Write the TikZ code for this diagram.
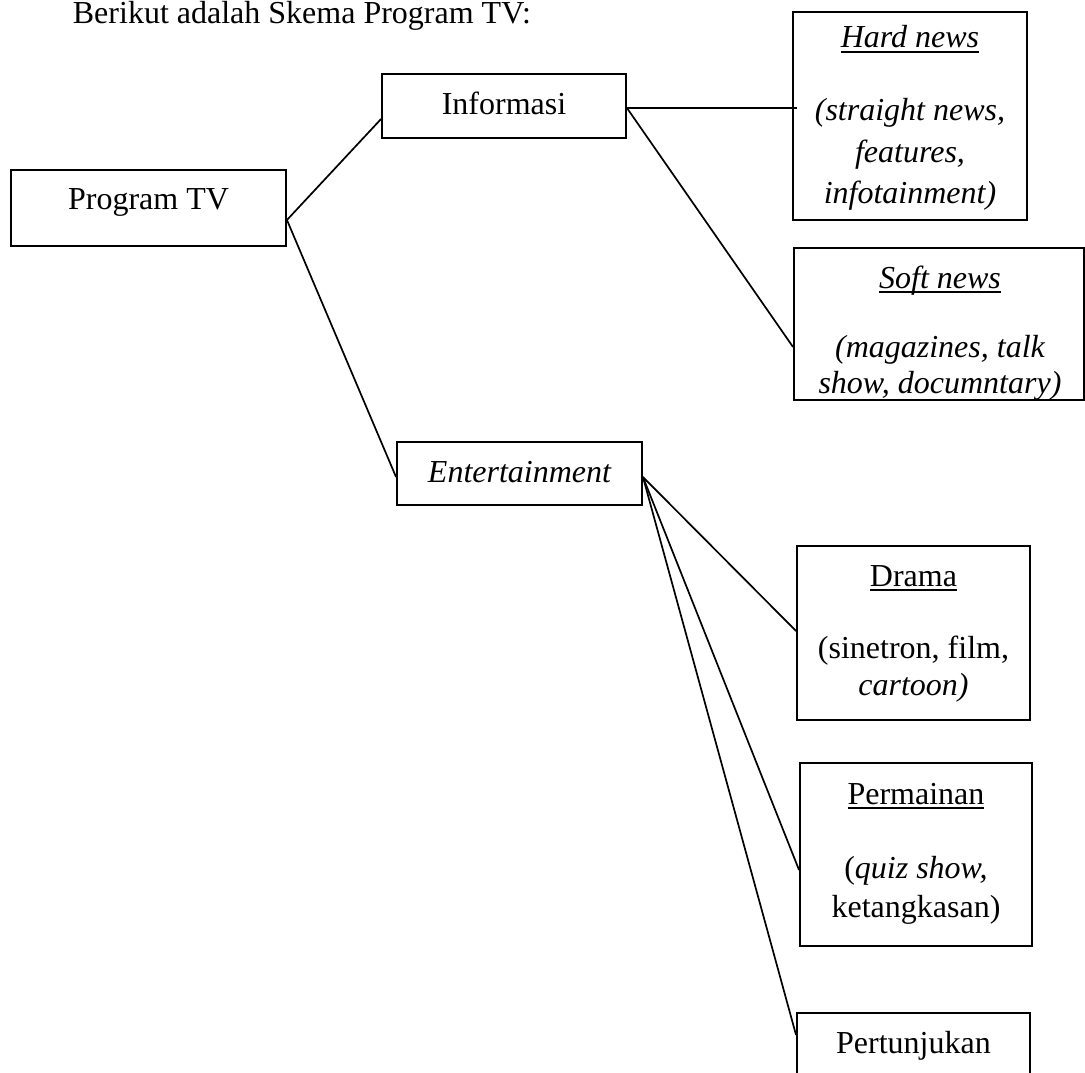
\documentclass[tikz,border=0pt]{standalone}
\usepackage{fontspec}
\setmainfont{Liberation Serif}
\newcommand\ulx[1]{\setbox0\hbox{#1}\rlap{\rule[-5pt]{\wd0}{1.6pt}}\box0}
\tikzset{
  box/.style={draw, line width=1.9pt, rectangle, inner sep=0pt},
  txt/.style={inner sep=0pt, anchor=base, font=\fontsize{32}{40}\selectfont},
  link/.style={line width=1.7pt}
}
\begin{document}
\begin{tikzpicture}[x=1pt,y=-1pt]
\useasboundingbox (0,0) rectangle (1085,1073);
\clip (0,0) rectangle (1085,1073);
\fill[white] (0,0) rectangle (1085,1073);
% title
\node[txt, anchor=base west] (title) at (72.7,24) {Berikut adalah Skema Program TV:};
% boxes
\node[box, minimum width=275pt, minimum height=76pt] (prog) at (148.5,208) {};
\node[box, minimum width=244pt, minimum height=64pt] (info) at (504,106) {};
\node[box, minimum width=245pt, minimum height=63pt] (ent) at (519.5,473.5) {};
\node[box, minimum width=234pt, minimum height=208pt] (hard) at (910,116) {};
\node[box, minimum width=290pt, minimum height=152pt] (soft) at (939,324) {};
\node[box, minimum width=233pt, minimum height=174pt] (drama) at (913.5,633) {};
\node[box, minimum width=232pt, minimum height=183pt] (perm) at (916,854.5) {};
\node[box, minimum width=233pt, minimum height=87pt] (pert) at (913.5,1056.5) {};
% texts
\node[txt] (progT) at (148.5,209) {Program TV};
\node[txt] (infoT) at (504,114) {Informasi};
\node[txt] (entT) at (519.5,482) {\itshape Entertainment};
\node[txt] (hardH) at (910,48) {\ulx{\itshape Hard news}};
\node[txt] (hard1) at (910,121) {\itshape (straight news,};
\node[txt] (hard2) at (910,162) {\itshape features,};
\node[txt] (hard3) at (910,203) {\itshape infotainment)};
\node[txt] (softH) at (940,288) {\ulx{\itshape Soft news}};
\node[txt] (soft1) at (940,357) {\itshape (magazines, talk};
\node[txt] (soft2) at (940,393) {\itshape show, documntary)};
\node[txt] (dramaH) at (913.5,586) {\ulx{Drama}};
\node[txt] (drama1) at (913.5,658) {(sinetron, film,};
\node[txt] (drama2) at (913.5,695) {\itshape cartoon)};
\node[txt] (permH) at (916,804) {\ulx{Permainan}};
\node[txt] (perm1) at (916,878) {(\textit{quiz show,}};
\node[txt] (perm2) at (916,917) {ketangkasan)};
\node[txt] (pertT) at (913.5,1053) {Pertunjukan};
% connectors
\draw[link] ([yshift=-12pt]prog.east) -- ([yshift=-13pt]info.west);
\draw[link] ([yshift=-12pt]prog.east) -- ([yshift=-3.5pt]ent.west);
\draw[link] ([yshift=-2pt]info.east) -- ([xshift=5pt,yshift=8pt]hard.west);
\draw[link] ([yshift=-2pt]info.east) -- ([yshift=-23pt]soft.west);
\draw[link] ([yshift=-3.5pt]ent.east) -- ([yshift=2pt]drama.west);
\draw[link] ([yshift=-3.5pt]ent.east) -- ([yshift=-15.5pt]perm.west);
\draw[link] ([yshift=-3.5pt]ent.east) -- ([yshift=21.5pt]pert.west);
\end{tikzpicture}
\end{document}
